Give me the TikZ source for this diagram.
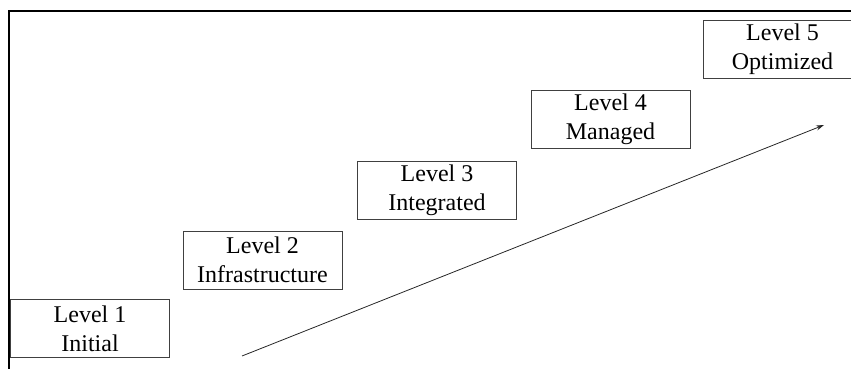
\documentclass[tikz,border=0pt]{standalone}
\usepackage{fontspec}
\setmainfont{Liberation Serif}
\usetikzlibrary{arrows.meta}
\begin{document}
\begin{tikzpicture}[x=1pt,y=-1pt,
  levelbox/.style={draw=black!75, line width=0.9pt, fill=white,
    minimum width=159pt, minimum height=58pt, inner sep=0pt,
    align=center, font=\fontsize{24}{29}\selectfont},
  axisline/.style={line width=2.4pt, black},
  trend/.style={line width=0.8pt, black!85, -{Stealth[length=8pt,width=5pt]}}]
  \useasboundingbox (0,0) rectangle (851,369);
  \clip (0,0) rectangle (851,369);
  % frame lines along the top and left
  \coordinate (corner) at (9,11);
  \coordinate (topend) at (852,11);
  \coordinate (leftend) at (9,370);
  \draw[axisline] (topend) -- (corner) -- (leftend);
  % maturity levels
  \node[levelbox] (l1) at (90,328.5)  {Level 1\\Initial};
  \node[levelbox] (l2) at (262.5,260) {Level 2\\Infrastructure};
  \node[levelbox] (l3) at (437,190)   {Level 3\\Integrated};
  \node[levelbox] (l4) at (610.5,119) {Level 4\\Managed};
  \node[levelbox] (l5) at (782.5,49)  {Level 5\\Optimized};
  % rising trend arrow
  \coordinate (tstart) at (242,356);
  \coordinate (tend) at (824,125);
  \draw[trend] (tstart) -- (tend);
\end{tikzpicture}
\end{document}
